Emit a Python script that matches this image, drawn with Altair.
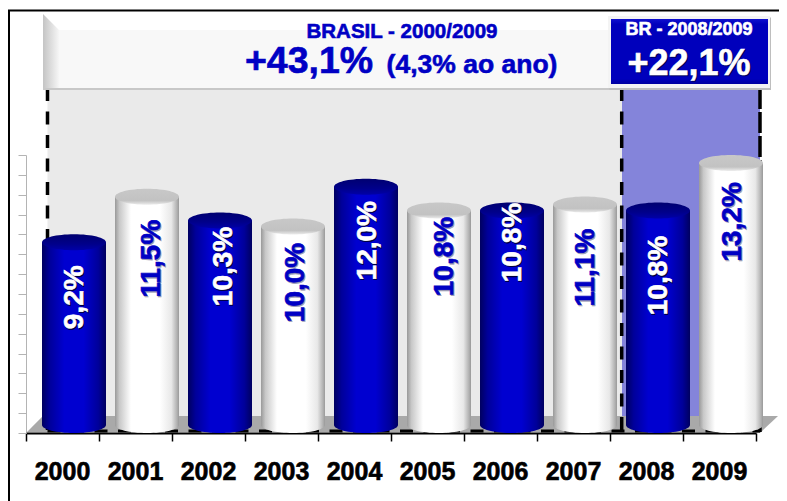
import altair as alt
import pandas as pd

years = ["2000", "2001", "2002", "2003", "2004", "2005", "2006", "2007", "2008", "2009"]
values = [9.2, 11.5, 10.3, 10.0, 12.0, 10.8, 10.8, 11.1, 10.8, 13.2]
labels = ["9,2%", "11,5%", "10,3%", "10,0%", "12,0%", "10,8%", "10,8%", "11,1%", "10,8%", "13,2%"]
styles = ["blue", "white", "blue", "white", "blue", "white", "blue", "white", "blue", "white"]
y_ticks = list(range(0, 15))

# label placement relative to the top of each column (pixels)
label_dx = [1, 5, 4, 3, 2, 6, 1, 1, 1, 2]
label_dy = [55, 62, 46, 56, 54, 46, 32, 63, 65, 59]

FONT = "Liberation Sans"
BLUE = "#0000C4"

df = pd.DataFrame({"year": years, "value": values, "label": labels, "style": styles})
df["zero"] = 0
one = pd.DataFrame({"k": [0]})


def px(v):
    return v - 26


def py(v):
    return v - 155


def grad(stops, vertical=False):
    return alt.LinearGradient(
        gradient="linear",
        stops=[alt.GradientStop(color=c, offset=o) for o, c in stops],
        x1=0, x2=0 if vertical else 1, y1=0, y2=1 if vertical else 0,
    )


def box(x0, x1, y0, y1, fill):
    return alt.Chart(one).mark_rect(fill=fill, strokeWidth=0).encode(
        x=alt.value(px(x0)), x2=alt.value(px(x1)), y=alt.value(py(y0)), y2=alt.value(py(y1))
    )


def vrule(x, y0, y1, dash=None, width=3.5, color="#000000"):
    kw = {"strokeDash": dash} if dash else {}
    return alt.Chart(one).mark_rule(color=color, strokeWidth=width, **kw).encode(
        x=alt.value(px(x)), y=alt.value(py(y0)), y2=alt.value(py(y1))
    )


def hrule(x0, x1, y, dash=None, width=3.5, color="#000000"):
    kw = {"strokeDash": dash} if dash else {}
    return alt.Chart(one).mark_rule(color=color, strokeWidth=width, **kw).encode(
        x=alt.value(px(x0)), x2=alt.value(px(x1)), y=alt.value(py(y))
    )


def text(t, x, y, size, color, weight=0.6):
    return alt.Chart(pd.DataFrame({"t": [t]})).mark_text(
        font=FONT, fontWeight="bold", fontSize=size, color=color, align="center", baseline="middle",
        stroke=color, strokeWidth=weight,
    ).encode(x=alt.value(px(x)), y=alt.value(py(y)), text="t:N")


def shape(path, cx, cy, extent, fill):
    return alt.Chart(one).mark_point(
        shape=path, filled=True, fill=fill, size=(2 * extent) ** 2, opacity=1, strokeWidth=0
    ).encode(x=alt.value(px(cx)), y=alt.value(py(cy)))


X = alt.X(
    "year:N", title=None,
    scale=alt.Scale(domain=years, paddingInner=0, paddingOuter=0),
    axis=alt.Axis(
        labels=False, tickBand="extent", tickColor="#000000", tickWidth=1.5, tickSize=8,
        domainColor="#000000", domainWidth=2, grid=False,
    ),
)
Y_SCALE = alt.Scale(domain=[0, 14], nice=False, zero=True)
Y_AXIS = alt.Axis(
    values=y_ticks, labels=False, grid=False, tickColor="#B4B4B4", tickSize=8, tickWidth=1,
    domainColor="#B4B4B4", domainWidth=1,
)
Y = alt.Y("value:Q", title=None, scale=Y_SCALE, axis=Y_AXIS)

BAR_W = 64
BAR_DX = 11.5
BASE_DY = -8
ELLIPSE = "M-1,0A1,0.25 0 1,0 1,0A1,0.25 0 1,0 -1,0Z"

blue_side = grad([(0, "#000060"), (0.12, "#00009A"), (0.35, "#0000D0"), (0.65, "#0000D0"), (0.88, "#00009A"), (1, "#000060")])
white_side = grad([(0, "#999999"), (0.07, "#C8C8C8"), (0.25, "#FFFFFF"), (0.7, "#FFFFFF"), (0.88, "#E8E8E8"), (0.97, "#B0B0B0"), (1, "#999999")])
blue_top = grad([(0, "#000070"), (0.6, "#00008A"), (1, "#0000A8")], vertical=True)
white_top = grad([(0, "#C8C8C8"), (0.75, "#C2C2C2"), (1, "#ECECEC")], vertical=True)


def columns(style, side, top):
    d = df[df["style"] == style]
    bottom = alt.Chart(d).mark_point(
        shape=ELLIPSE, filled=True, fill=side, size=BAR_W ** 2, opacity=1, strokeWidth=0,
        xOffset=BAR_DX, yOffset=BASE_DY,
    ).encode(x=X, y=alt.Y("zero:Q", title=None, scale=Y_SCALE, axis=Y_AXIS))
    body = alt.Chart(d).mark_bar(
        fill=side, size=BAR_W, xOffset=BAR_DX, x2Offset=BAR_DX, yOffset=BASE_DY, y2Offset=BASE_DY, strokeWidth=0
    ).encode(x=X, y=Y, y2=alt.datum(0))
    cap = alt.Chart(d).mark_point(
        shape=ELLIPSE, filled=True, fill=top, size=BAR_W ** 2, opacity=1, strokeWidth=0,
        xOffset=BAR_DX, yOffset=BASE_DY,
    ).encode(x=X, y=Y)
    return [bottom, body, cap]


def bar_labels():
    out = []
    for i, row in df.iterrows():
        d = df.iloc[[i]]
        is_blue = row["style"] == "blue"
        for shadow in (True, False):
            if shadow:
                col = "#00003C" if is_blue else "#9A9AB4"
            else:
                col = "#FFFFFF" if is_blue else BLUE
            off = 1.2 if shadow else 0
            out.append(
                alt.Chart(d).mark_text(
                    font=FONT, fontWeight="bold", fontSize=28, color=col, angle=270,
                    align="center", baseline="middle", stroke=col, strokeWidth=0.6,
                    xOffset=BAR_DX + label_dx[i] + off,
                    yOffset=BASE_DY + label_dy[i] + off,
                ).encode(x=X, y=Y, text="label:N")
            )
    return out


year_labels = alt.Chart(df).mark_text(
    font=FONT, fontWeight="bold", fontSize=25, color="#000000", align="center", baseline="middle",
    stroke="#000000", strokeWidth=0.6,
).encode(x=X, y=alt.value(py(472)), text="year:N")

layers = [
    # plot backgrounds
    box(47.5, 622, 88, 416, "#EAEAEA"),
    box(622, 760, 88, 416, "#8484DA"),
    # floor of the 3-D chart
    alt.Chart(one).mark_point(
        shape="M-1,0.0226L-0.955,-0.0226L1,-0.0226L0.952,0.0226Z",
        filled=True, fill="#707070", opacity=0.6, size=752 ** 2, strokeWidth=0,
    ).encode(x=alt.value(px(402)), y=alt.value(py(424.5))),
    # dashed period markers
    vrule(47.5, 88, 432, dash=[13, 10.5]),
    vrule(621.7, 88, 432, dash=[13, 10.5]),
    vrule(760, 88, 432, dash=[21, 3]),
    hrule(47.5, 760, 431, dash=[13, 10.5], width=3),
    # outer frame
    hrule(8, 787, 10.5, width=2),
    vrule(9, 10, 501, width=2),
    # header panel
    box(43, 612, 14, 88, "#FFFFFF"),
    box(59, 612, 30, 88, "#F8F8F8"),
    shape("M-0.216,-1L0.216,-0.568L0.216,1L-0.216,1Z", 51, 51, 37, grad([(0, "#C4C4C4"), (1, "#F6F6F6")])),
    box(43, 612, 88, 90, "#C8C8C8"),
    text("BRASIL - 2000/2009", 402, 31.5, 20.5, BLUE),
    text("+43,1%", 309, 62, 37.5, BLUE),
    text("(4,3% ao ano)", 472, 65, 26.5, BLUE),
    # blue highlight box
    box(609.5, 771, 17.5, 90, "#BEBEBE"),
    box(608, 770, 16, 88, "#F4F4F4"),
    box(611, 768, 19, 84, grad([(0, "#1010D0"), (0.08, "#0000BC"), (0.92, "#0000BC"), (1, "#0000A0")], vertical=True)),
    text("BR - 2008/2009", 689, 30, 18, "#FFFFFF"),
    text("+22,1%", 690.2, 65, 36, "#00005A"),
    text("+22,1%", 689, 64, 36, "#FFFFFF"),
]
layers += columns("blue", blue_side, blue_top)
layers += columns("white", white_side, white_top)
layers += bar_labels()
layers.append(year_labels)

chart = alt.layer(*layers).properties(
    width=730,
    height=278,
    padding={"left": 18, "top": 147, "right": 23, "bottom": 68},
    autosize=alt.AutoSizeParams(type="none"),
    background="#FFFFFF",
).configure_view(stroke=None)

chart.save("out.html", embed_options={"renderer": "svg", "actions": False})
